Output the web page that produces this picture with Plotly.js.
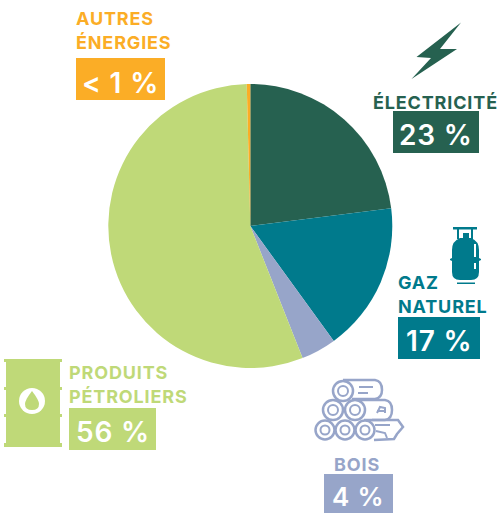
<!DOCTYPE html>
<html>
<head>
<meta charset="utf-8">
<script src="https://cdn.plot.ly/plotly-3.0.1.min.js"></script>
<style>html,body{margin:0;padding:0;background:#fff}#c{width:500px;height:513px}
.annotation-text{letter-spacing:0.85px}</style>
</head>
<body>
<div id="c"></div>
<script>
const categories = ["Électricité", "Gaz naturel", "Bois", "Produits pétroliers", "Autres énergies"];
const values = [23, 17, 4, 55.6, 0.4];
const colors = ["#266150", "#007a8c", "#97a5c9", "#bfd978", "#fbad26"];
const valueLabels = ["23 %", "17 %", "4 %", "56 %", "< 1 %"];

const W = 500, H = 513;
const px = x => x / W, py = y => 1 - y / H;
const FONT = "Inter, sans-serif";

function path(d, fill, line, lw) {
  const conv = d.replace(/(-?[\d.]+),(-?[\d.]+)/g, (m, a, b) => px(+a).toFixed(5) + "," + py(+b).toFixed(5));
  return {type: "path", xref: "paper", yref: "paper", path: conv,
    fillcolor: fill || "rgba(0,0,0,0)", line: {width: lw || 0, color: line || "rgba(0,0,0,0)"}};
}
function rect(x0, y0, x1, y1, fill) {
  return {type: "rect", xref: "paper", yref: "paper", x0: px(x0), x1: px(x1), y0: py(y1), y1: py(y0),
    fillcolor: fill, line: {width: 0}};
}
function circ(cx, cy, r, fill, line, lw) {
  return {type: "circle", xref: "paper", yref: "paper", x0: px(cx - r), x1: px(cx + r), y0: py(cy + r), y1: py(cy - r),
    fillcolor: fill || "rgba(0,0,0,0)", line: {width: lw || 0, color: line || "rgba(0,0,0,0)"}};
}
function txt(text, x, y, color, size, anchor, weight) {
  return {text: text, xref: "paper", yref: "paper", x: px(x), y: py(y), xanchor: anchor || "left", yanchor: "middle",
    showarrow: false, borderpad: 0, font: {family: FONT, size: size, color: color, weight: weight || 700}};
}

const [cE, cG, cB, cP, cA] = colors;
const shapes = [
  // value boxes
  rect(76, 58, 165, 100, cA),
  rect(393, 111, 479, 153, cE),
  rect(398, 317, 480, 359, cG),
  rect(69, 408, 156, 450, cP),
  rect(324, 474, 393, 513, cB),
  // lightning bolt
  path("M461,22.5 L416.5,57 L431,58 L411.5,79 L457,49 L440,49 Z", cE),
  // gas cylinder
  path("M453,227 L477,227 L477,229.500 L453,229.500 Z", cG),
  path("M457,229 L459,229 L459,239 L457,239 Z M471,229 L473,229 L473,239 L471,239 Z", cG),
  path("M463,233 L469,233 L469,239 L463,239 Z", cG),
  path("M460,238 L471,238 Q479,241 479,250 L479,258 L481,259 L481,260 L479,261 L479,272 Q479,280 471,280 L460,280 Q452,280 452,272 L452,261 L450,260 L450,259 L452,258 L452,250 Q452,241 460,238 Z", cG),
  path("M474,244 L476,244 L476,257 L474,257 Z M474,263 L476,263 L476,269 L474,269 Z", "#ffffff"),
  path("M457,282.500 L475,282.500 L475,284 L457,284 Z", cG),
  // barrel
  path("M4,359 L62,359 L62,362 L60,362 L60,387 L62,387 L62,390 L60,390 L60,414 L62,414 L62,417 L60,417 L60,443 L62,443 L62,447 L4,447 L4,443 L6,443 L6,417 L4,417 L4,414 L6,414 L6,390 L4,390 L4,387 L6,387 L6,362 L4,362 Z", cP),
  circ(32, 401, 13, "#ffffff"),
  path("M32,391 Q39,400 39,404 Q39,410 32,410 Q25,410 25,404 Q25,400 32,391 Z", cP),
  // logs: outlines
  path("M343,380 L375,380 Q382,381 382,390 Q382,398 375,399 L352,399", null, cB, 2.5),
  path("M355,400 L385,400 Q392,401 392,410 Q392,419 385,420 L364,420", null, cB, 2.5),
  path("M372,420 L398,420 L403,427 L397,434 L394,439 L374,440", null, cB, 2.5),
  path("M359,387 L373,387 M358,393 L368,393 M377,413 L380,407 L385,408 L385,413 M377,411 L385,411 M375,425 L390,425 M376,431 L385,433 L387,438", null, cB, 2),
  // logs: end circles
  circ(343, 391, 10, "#ffffff", cB, 2.5), circ(343, 391, 5, null, cB, 2),
  circ(333, 410, 10, "#ffffff", cB, 2.5), circ(333, 410, 5, null, cB, 2),
  circ(355, 410, 10, "#ffffff", cB, 2.5), circ(355, 410, 5, null, cB, 2),
  circ(325, 430, 9.5, "#ffffff", cB, 2.5), circ(325, 430, 4.5, null, cB, 2),
  circ(345, 430, 9.5, "#ffffff", cB, 2.5), circ(345, 430, 4.5, null, cB, 2),
  circ(365, 430, 9.5, "#ffffff", cB, 2.5), circ(365, 430, 4.5, null, cB, 2),
];

const annotations = [
  txt("AUTRES", 74.5, 19, cA, 18),
  txt("ÉNERGIES", 74.5, 42, cA, 18),
  txt(valueLabels[4], 120.5, 83, "#ffffff", 28, "center", 600),
  txt("ÉLECTRICITÉ", 372, 102, cE, 18),
  txt(valueLabels[0], 436, 135, "#ffffff", 28, "center", 600),
  txt("GAZ", 396.5, 282, cG, 18),
  txt("NATUREL", 396.5, 306, cG, 18),
  txt(valueLabels[1], 439, 341, "#ffffff", 28, "center", 600),
  txt("PRODUITS", 67.5, 372, cP, 18),
  txt("PÉTROLIERS", 67.5, 396, cP, 18),
  txt(valueLabels[3], 112.5, 432, "#ffffff", 28, "center", 600),
  txt("BOIS", 357, 464, cB, 18, "center"),
  txt(valueLabels[2], 358.5, 496.5, "#ffffff", 26, "center", 600),
];

Plotly.newPlot("c", [{
  type: "pie",
  labels: categories,
  values: values,
  sort: false,
  direction: "clockwise",
  rotation: 0,
  textinfo: "none",
  marker: {colors: colors, line: {width: 0}},
  domain: {x: [px(108.3), px(392.3)], y: [py(368), py(84)]},
  showlegend: false
}], {
  width: W, height: H,
  margin: {l: 0, r: 0, t: 0, b: 0},
  paper_bgcolor: "#ffffff",
  showlegend: false,
  shapes: shapes,
  annotations: annotations
}, {displayModeBar: false});
</script>
</body>
</html>
